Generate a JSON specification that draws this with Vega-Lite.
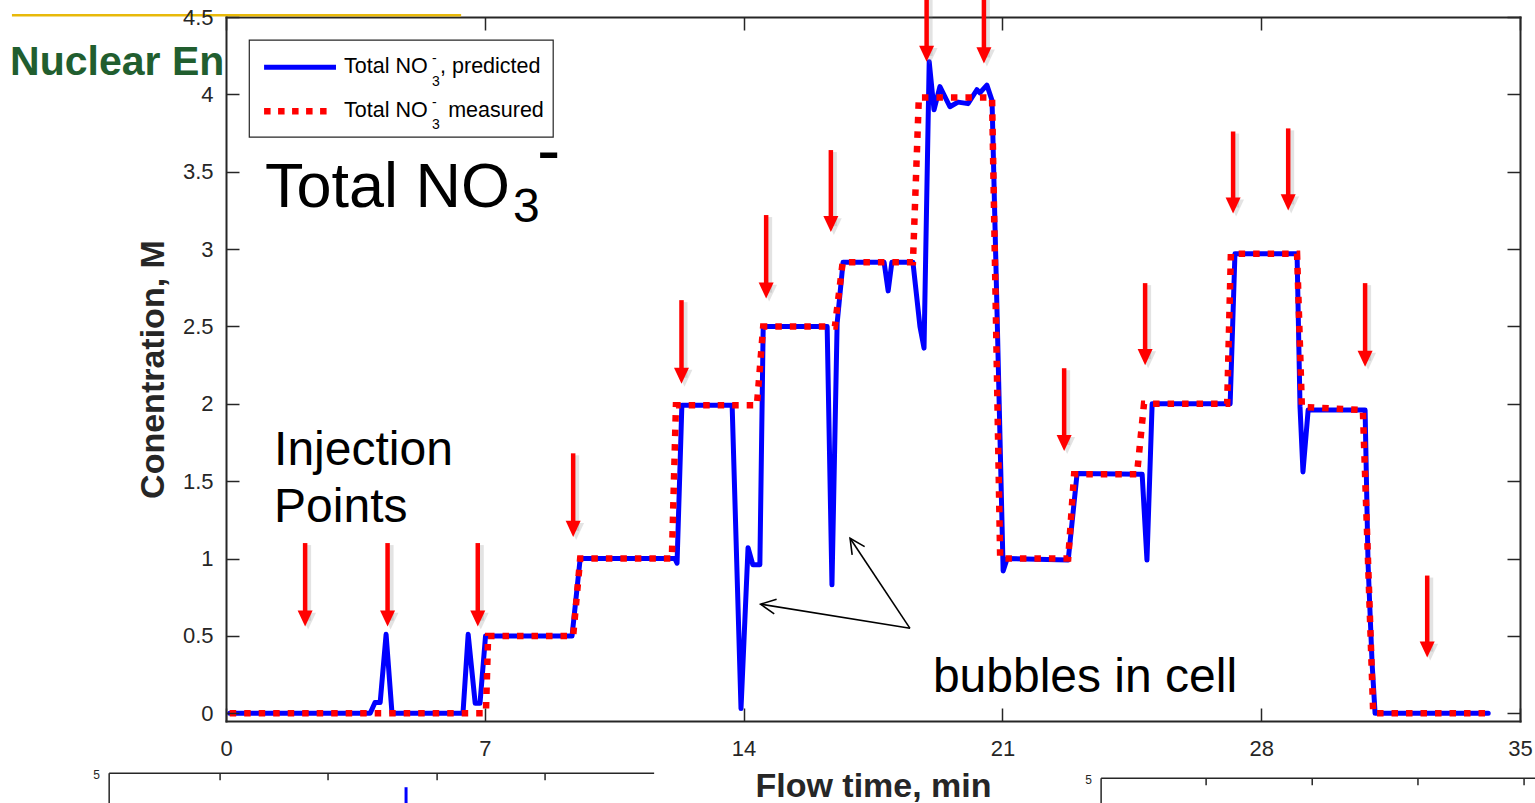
{
  "$schema": "https://vega.github.io/schema/vega-lite/v6.json",
  "width": 1294,
  "height": 704,
  "autosize": {"type": "none"},
  "padding": {"left": 226, "top": 17, "right": 15, "bottom": 82},
  "background": "white",
  "config": {"view": {"stroke": null}, "font": "Liberation Sans"},
  "resolve": {"axis": {"x": "independent", "y": "independent"}},
  "datasets": {
    "predicted": [
      {"t": 0.1, "c": 0}, {"t": 3.9, "c": 0}, {"t": 4.03, "c": 0.07}, {"t": 4.17, "c": 0.07},
      {"t": 4.33, "c": 0.51}, {"t": 4.49, "c": 0}, {"t": 6.41, "c": 0}, {"t": 6.55, "c": 0.51},
      {"t": 6.74, "c": 0.065}, {"t": 6.87, "c": 0.065}, {"t": 7.02, "c": 0.5}, {"t": 9.36, "c": 0.5},
      {"t": 9.58, "c": 1.0}, {"t": 12.14, "c": 1.0}, {"t": 12.2, "c": 0.97}, {"t": 12.33, "c": 1.99},
      {"t": 13.69, "c": 1.99}, {"t": 13.93, "c": 0.03}, {"t": 14.12, "c": 1.07}, {"t": 14.25, "c": 0.96},
      {"t": 14.44, "c": 0.96}, {"t": 14.53, "c": 2.5}, {"t": 16.26, "c": 2.5}, {"t": 16.39, "c": 0.83},
      {"t": 16.53, "c": 2.52}, {"t": 16.69, "c": 2.915}, {"t": 17.8, "c": 2.915}, {"t": 17.91, "c": 2.73},
      {"t": 18.01, "c": 2.915}, {"t": 18.58, "c": 2.915}, {"t": 18.77, "c": 2.5}, {"t": 18.88, "c": 2.36},
      {"t": 19.02, "c": 4.21}, {"t": 19.15, "c": 3.9}, {"t": 19.31, "c": 4.05}, {"t": 19.58, "c": 3.92},
      {"t": 19.8, "c": 3.95}, {"t": 20.07, "c": 3.94}, {"t": 20.31, "c": 4.03}, {"t": 20.39, "c": 4.01},
      {"t": 20.58, "c": 4.06}, {"t": 20.72, "c": 3.96}, {"t": 21.02, "c": 0.92}, {"t": 21.13, "c": 1.0},
      {"t": 22.78, "c": 0.99}, {"t": 23.02, "c": 1.55}, {"t": 24.78, "c": 1.545}, {"t": 24.91, "c": 0.99},
      {"t": 25.05, "c": 2.0}, {"t": 27.16, "c": 2.0}, {"t": 27.29, "c": 2.97}, {"t": 28.97, "c": 2.97},
      {"t": 29.05, "c": 1.98}, {"t": 29.13, "c": 1.56}, {"t": 29.27, "c": 1.96}, {"t": 30.81, "c": 1.96},
      {"t": 30.89, "c": 0.97}, {"t": 31.0, "c": 0.32}, {"t": 31.08, "c": 0}, {"t": 34.14, "c": 0}
    ],
    "measured": [
      {"t": 0.1, "c": 0}, {"t": 7.03, "c": 0}, {"t": 7.09, "c": 0.5}, {"t": 9.39, "c": 0.5},
      {"t": 9.58, "c": 1.0}, {"t": 12.06, "c": 1.0}, {"t": 12.17, "c": 1.99}, {"t": 14.36, "c": 1.99},
      {"t": 14.53, "c": 2.5}, {"t": 16.47, "c": 2.5}, {"t": 16.68, "c": 2.915}, {"t": 18.58, "c": 2.915},
      {"t": 18.74, "c": 3.98}, {"t": 20.72, "c": 3.98}, {"t": 20.94, "c": 1.0}, {"t": 22.78, "c": 1.0},
      {"t": 22.94, "c": 1.545}, {"t": 24.64, "c": 1.545}, {"t": 24.83, "c": 2.0}, {"t": 27.08, "c": 2.0},
      {"t": 27.18, "c": 2.97}, {"t": 28.97, "c": 2.97}, {"t": 29.1, "c": 1.98}, {"t": 30.75, "c": 1.96},
      {"t": 31.03, "c": 0}, {"t": 34.14, "c": 0}
    ],
    "arrows": [
      {"t": 2.14, "top": 1.10, "tip": 0.56}, {"t": 4.37, "top": 1.10, "tip": 0.56},
      {"t": 6.81, "top": 1.10, "tip": 0.56}, {"t": 9.39, "top": 1.68, "tip": 1.14},
      {"t": 12.32, "top": 2.67, "tip": 2.13}, {"t": 14.61, "top": 3.22, "tip": 2.68},
      {"t": 16.36, "top": 3.64, "tip": 3.11}, {"t": 18.95, "top": 4.7, "tip": 4.21},
      {"t": 20.5, "top": 4.7, "tip": 4.2}, {"t": 22.67, "top": 2.23, "tip": 1.695},
      {"t": 24.86, "top": 2.78, "tip": 2.25}, {"t": 27.24, "top": 3.76, "tip": 3.23},
      {"t": 28.73, "top": 3.78, "tip": 3.25}, {"t": 30.81, "top": 2.78, "tip": 2.24},
      {"t": 32.49, "top": 0.89, "tip": 0.36}
    ],
    "frames": [
      {"t": -3.16, "t2": 11.58, "c": -0.388, "c2": -0.388},
      {"t": -3.16, "t2": -3.16, "c": -0.388, "c2": -0.7},
      {"t": -0.16, "t2": -0.16, "c": -0.388, "c2": -0.433},
      {"t": 2.76, "t2": 2.76, "c": -0.388, "c2": -0.433},
      {"t": 5.71, "t2": 5.71, "c": -0.388, "c2": -0.433},
      {"t": 8.63, "t2": 8.63, "c": -0.388, "c2": -0.433},
      {"t": 23.67, "t2": 35.6, "c": -0.42, "c2": -0.42},
      {"t": 23.67, "t2": 23.67, "c": -0.42, "c2": -0.7},
      {"t": 26.51, "t2": 26.51, "c": -0.42, "c2": -0.465},
      {"t": 29.38, "t2": 29.38, "c": -0.42, "c2": -0.465},
      {"t": 32.24, "t2": 32.24, "c": -0.42, "c2": -0.465},
      {"t": 35.11, "t2": 35.11, "c": -0.42, "c2": -0.465}
    ]
  },
  "layer": [
    {
      "data": {"values": [{"t": -5.79, "t2": 6.36, "c": 4.512}]},
      "mark": {"type": "rule", "color": "#e8b90a", "strokeWidth": 2.5},
      "encoding": {
        "x": {"field": "t", "type": "quantitative", "scale": {"domain": [0, 35], "nice": false, "zero": false}, "axis": null},
        "x2": {"field": "t2"},
        "y": {"field": "c", "type": "quantitative", "scale": {"domain": [-0.05, 4.5], "nice": false, "zero": false}, "axis": null}
      }
    },
    {
      "data": {"values": [{"label": "Nuclear En", "t": -5.84, "c": 4.122}]},
      "mark": {"type": "text", "align": "left", "baseline": "alphabetic", "fontSize": 41, "fontWeight": "bold", "color": "#215e2f", "font": "Liberation Sans"},
      "encoding": {
        "x": {"field": "t", "type": "quantitative", "axis": null},
        "y": {"field": "c", "type": "quantitative", "axis": null},
        "text": {"field": "label"}
      }
    },
    {
      "data": {"name": "predicted"},
      "mark": {"type": "line", "color": "#0000ff", "strokeWidth": 5, "strokeJoin": "round", "strokeCap": "round"},
      "encoding": {
        "x": {
          "field": "t", "type": "quantitative",
          "scale": {"domain": [0, 35], "nice": false, "zero": false},
          "axis": {
            "orient": "bottom", "values": [0, 7, 14, 21, 28, 35], "grid": false,
            "tickSize": -13, "tickWidth": 1.5, "tickColor": "#262626",
            "domainColor": "#262626", "domainWidth": 2, "domainCap": "square",
            "labelFontSize": 22, "labelColor": "#262626", "labelPadding": 30, "labelFlush": false, "labelFont": "Liberation Sans",
            "title": "Flow time, min", "titleFontSize": 34, "titleFontWeight": "bold", "titleColor": "#262626", "titleFont": "Liberation Sans",
            "titleX": 647, "titleY": 75, "titleAlign": "center", "titleBaseline": "alphabetic", "zindex": 1
          }
        },
        "y": {
          "field": "c", "type": "quantitative",
          "scale": {"domain": [-0.05, 4.5], "nice": false, "zero": false},
          "axis": {
            "orient": "left", "values": [0, 0.5, 1, 1.5, 2, 2.5, 3, 3.5, 4, 4.5], "grid": false,
            "tickSize": -13, "tickWidth": 1.5, "tickColor": "#262626",
            "domainColor": "#262626", "domainWidth": 2, "domainCap": "square",
            "labelFontSize": 22, "labelColor": "#262626", "labelPadding": 26, "labelFont": "Liberation Sans",
            "labelExpr": "'' + datum.value",
            "title": "Conentration, M", "titleFontSize": 34, "titleFontWeight": "bold", "titleColor": "#262626", "titleFont": "Liberation Sans",
            "titleX": -63, "titleY": 352, "titleAngle": -90, "titleAlign": "center", "titleBaseline": "alphabetic", "zindex": 1
          }
        }
      }
    },
    {
      "data": {"name": "measured"},
      "mark": {"type": "line", "color": "#ff0000", "strokeWidth": 6.5, "strokeDash": [6.5, 8], "strokeCap": "butt"},
      "encoding": {
        "x": {
          "field": "t", "type": "quantitative",
          "axis": {
            "orient": "top", "values": [0, 7, 14, 21, 28, 35], "grid": false, "labels": false, "title": null,
            "tickSize": -13, "tickWidth": 1.5, "tickColor": "#262626",
            "domainColor": "#262626", "domainWidth": 2, "domainCap": "square"
          }
        },
        "y": {
          "field": "c", "type": "quantitative",
          "axis": {
            "orient": "right", "values": [0, 0.5, 1, 1.5, 2, 2.5, 3, 3.5, 4, 4.5], "grid": false, "labels": false, "title": null,
            "tickSize": -13, "tickWidth": 1.5, "tickColor": "#262626",
            "domainColor": "#262626", "domainWidth": 2, "domainCap": "square"
          }
        }
      }
    },
    {
      "data": {"name": "arrows"},
      "mark": {"type": "rule", "color": "#7f7f7f", "opacity": 0.22, "strokeWidth": 6, "xOffset": 3, "yOffset": 2, "y2Offset": -6},
      "encoding": {
        "x": {"field": "t", "type": "quantitative", "axis": null},
        "y": {"field": "top", "type": "quantitative", "axis": null},
        "y2": {"field": "tip"}
      }
    },
    {
      "data": {"name": "arrows"},
      "mark": {"type": "point", "shape": "M0,0L-0.5,-1.07L0.5,-1.07Z", "filled": true, "size": 1000, "color": "#7f7f7f", "opacity": 0.22, "strokeWidth": 0, "xOffset": 3, "yOffset": 3},
      "encoding": {
        "x": {"field": "t", "type": "quantitative", "axis": null},
        "y": {"field": "tip", "type": "quantitative", "axis": null}
      }
    },
    {
      "data": {"name": "arrows"},
      "mark": {"type": "rule", "color": "#ff0000", "strokeWidth": 4.5, "y2Offset": -10},
      "encoding": {
        "x": {"field": "t", "type": "quantitative", "axis": null},
        "y": {"field": "top", "type": "quantitative", "axis": null},
        "y2": {"field": "tip"}
      }
    },
    {
      "data": {"name": "arrows"},
      "mark": {"type": "point", "shape": "M0,0L-0.5,-1.07L0.5,-1.07Z", "filled": true, "size": 900, "color": "#ff0000", "opacity": 1, "strokeWidth": 0},
      "encoding": {
        "x": {"field": "t", "type": "quantitative", "axis": null},
        "y": {"field": "tip", "type": "quantitative", "axis": null}
      }
    },
    {
      "data": {"values": [
        {"t": 18.5, "c": 0.549, "t2": 14.46, "c2": 0.705},
        {"t": 18.5, "c": 0.549, "t2": 16.88, "c2": 1.131}
      ]},
      "mark": {"type": "rule", "color": "black", "strokeWidth": 1.6},
      "encoding": {
        "x": {"field": "t", "type": "quantitative", "axis": null},
        "y": {"field": "c", "type": "quantitative", "axis": null},
        "x2": {"field": "t2"},
        "y2": {"field": "c2"}
      }
    },
    {
      "data": {"values": [{"t": 14.46, "c": 0.705}]},
      "mark": {"type": "point", "shape": "M-1,-0.5L0,0L-1,0.5", "filled": false, "size": 900, "color": "black", "opacity": 1, "strokeWidth": 1.6, "angle": 189.15},
      "encoding": {
        "x": {"field": "t", "type": "quantitative", "axis": null},
        "y": {"field": "c", "type": "quantitative", "axis": null}
      }
    },
    {
      "data": {"values": [{"t": 16.88, "c": 1.131}]},
      "mark": {"type": "point", "shape": "M-1,-0.5L0,0L-1,0.5", "filled": false, "size": 900, "color": "black", "opacity": 1, "strokeWidth": 1.6, "angle": 236.3},
      "encoding": {
        "x": {"field": "t", "type": "quantitative", "axis": null},
        "y": {"field": "c", "type": "quantitative", "axis": null}
      }
    },
    {
      "data": {"values": [{"label": "Total NO", "t": 1.055, "c": 3.271}]},
      "mark": {"type": "text", "align": "left", "baseline": "alphabetic", "fontSize": 63, "color": "black", "font": "Liberation Sans"},
      "encoding": {
        "x": {"field": "t", "type": "quantitative", "axis": null},
        "y": {"field": "c", "type": "quantitative", "axis": null},
        "text": {"field": "label"}
      }
    },
    {
      "data": {"values": [{"label": "3", "t": 7.76, "c": 3.174}]},
      "mark": {"type": "text", "align": "left", "baseline": "alphabetic", "fontSize": 48, "color": "black", "font": "Liberation Sans"},
      "encoding": {
        "x": {"field": "t", "type": "quantitative", "axis": null},
        "y": {"field": "c", "type": "quantitative", "axis": null},
        "text": {"field": "label"}
      }
    },
    {
      "data": {"values": [{"label": "-", "t": 8.41, "c": 3.484}]},
      "mark": {"type": "text", "align": "left", "baseline": "alphabetic", "fontSize": 70, "color": "black", "font": "Liberation Sans"},
      "encoding": {
        "x": {"field": "t", "type": "quantitative", "axis": null},
        "y": {"field": "c", "type": "quantitative", "axis": null},
        "text": {"field": "label"}
      }
    },
    {
      "data": {"values": [
        {"label": "Injection", "t": 1.3, "c": 1.603},
        {"label": "Points", "t": 1.3, "c": 1.235},
        {"label": "bubbles in cell", "t": 19.12, "c": 0.136}
      ]},
      "mark": {"type": "text", "align": "left", "baseline": "alphabetic", "fontSize": 48, "color": "black", "font": "Liberation Sans"},
      "encoding": {
        "x": {"field": "t", "type": "quantitative", "axis": null},
        "y": {"field": "c", "type": "quantitative", "axis": null},
        "text": {"field": "label"}
      }
    },
    {
      "data": {"values": [{"t": 0.63, "t2": 8.85, "c": 3.723, "c2": 4.35}]},
      "mark": {"type": "rect", "fill": "white", "stroke": "#262626", "strokeWidth": 1.2},
      "encoding": {
        "x": {"field": "t", "type": "quantitative", "axis": null},
        "x2": {"field": "t2"},
        "y": {"field": "c", "type": "quantitative", "axis": null},
        "y2": {"field": "c2"}
      }
    },
    {
      "data": {"values": [{"t": 1.03, "t2": 2.975, "c": 4.176}]},
      "mark": {"type": "rule", "color": "#0000ff", "strokeWidth": 5},
      "encoding": {
        "x": {"field": "t", "type": "quantitative", "axis": null},
        "x2": {"field": "t2"},
        "y": {"field": "c", "type": "quantitative", "axis": null}
      }
    },
    {
      "data": {"values": [{"t": 1.03, "t2": 2.81, "c": 3.891}]},
      "mark": {"type": "rule", "color": "#ff0000", "strokeWidth": 6.5, "strokeDash": [6.5, 7.5]},
      "encoding": {
        "x": {"field": "t", "type": "quantitative", "axis": null},
        "x2": {"field": "t2"},
        "y": {"field": "c", "type": "quantitative", "axis": null}
      }
    },
    {
      "data": {"values": [
        {"label": "Total NO", "t": 3.192, "c": 4.137},
        {"label": ", predicted", "t": 5.79, "c": 4.137},
        {"label": "Total NO", "t": 3.192, "c": 3.853},
        {"label": "measured", "t": 6.01, "c": 3.853}
      ]},
      "mark": {"type": "text", "align": "left", "baseline": "alphabetic", "fontSize": 21.5, "color": "black", "font": "Liberation Sans"},
      "encoding": {
        "x": {"field": "t", "type": "quantitative", "axis": null},
        "y": {"field": "c", "type": "quantitative", "axis": null},
        "text": {"field": "label"}
      }
    },
    {
      "data": {"values": [
        {"label": "3", "t": 5.57, "c": 4.056},
        {"label": "-", "t": 5.57, "c": 4.202},
        {"label": "3", "t": 5.57, "c": 3.778},
        {"label": "-", "t": 5.57, "c": 3.92}
      ]},
      "mark": {"type": "text", "align": "left", "baseline": "alphabetic", "fontSize": 14, "color": "black", "font": "Liberation Sans"},
      "encoding": {
        "x": {"field": "t", "type": "quantitative", "axis": null},
        "y": {"field": "c", "type": "quantitative", "axis": null},
        "text": {"field": "label"}
      }
    },
    {
      "data": {"name": "frames"},
      "mark": {"type": "rule", "color": "#262626", "strokeWidth": 1.5},
      "encoding": {
        "x": {"field": "t", "type": "quantitative", "axis": null},
        "x2": {"field": "t2"},
        "y": {"field": "c", "type": "quantitative", "axis": null},
        "y2": {"field": "c2"}
      }
    },
    {
      "data": {"values": [{"t": 4.87, "c": -0.478, "c2": -0.7}]},
      "mark": {"type": "rule", "color": "#0000ff", "strokeWidth": 3},
      "encoding": {
        "x": {"field": "t", "type": "quantitative", "axis": null},
        "y": {"field": "c", "type": "quantitative", "axis": null},
        "y2": {"field": "c2"}
      }
    },
    {
      "data": {"values": [
        {"label": "5", "t": -3.41, "c": -0.427},
        {"label": "5", "t": 23.42, "c": -0.459}
      ]},
      "mark": {"type": "text", "align": "right", "baseline": "alphabetic", "fontSize": 12, "color": "#262626", "font": "Liberation Sans"},
      "encoding": {
        "x": {"field": "t", "type": "quantitative", "axis": null},
        "y": {"field": "c", "type": "quantitative", "axis": null},
        "text": {"field": "label"}
      }
    }
  ]
}
